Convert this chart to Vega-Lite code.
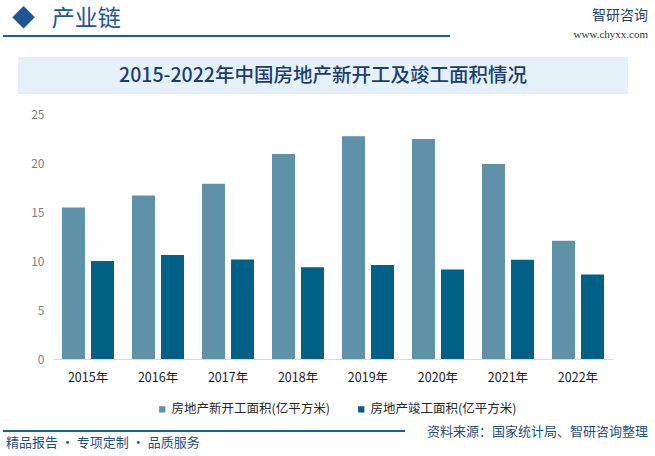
{
  "$schema": "https://vega.github.io/schema/vega-lite/v6.json",
  "background": "white",
  "padding": {"left": 3, "top": 8, "right": 0, "bottom": 0},
  "bounds": "flush",
  "spacing": 0,
  "config": {
    "view": {"stroke": null},
    "font": "Noto Sans CJK SC",
    "title": {"font": "Noto Sans CJK SC", "fontWeight": "normal"}
  },
  "vconcat": [
    {
      "bounds": "flush",
      "spacing": 50,
      "hconcat": [
        {
          "width": 447,
          "height": 2,
          "view": {"fill": "#1f5f8b", "stroke": null},
          "data": {"values": []},
          "mark": "point",
          "title": {
            "text": "◆\u2002 产业链",
            "anchor": "start",
            "orient": "top",
            "offset": 4,
            "dx": 9,
            "fontSize": 23,
            "color": "#1f5592"
          }
        },
        {
          "width": 148,
          "height": 2,
          "data": {"values": []},
          "mark": "point",
          "title": {
            "text": "智研咨询",
            "subtitle": "www.chyxx.com",
            "anchor": "end",
            "orient": "top",
            "offset": -5,
            "subtitlePadding": 6,
            "fontSize": 14,
            "color": "#1f3f6b",
            "subtitleFont": "Liberation Serif",
            "subtitleFontSize": 11,
            "subtitleColor": "#333333"
          }
        }
      ]
    },
    {"width": 1, "height": 22, "data": {"values": []}, "mark": "point"},
    {
      "bounds": "flush",
      "spacing": 14,
      "hconcat": [
        {"width": 1, "height": 37, "data": {"values": []}, "mark": "point"},
        {
          "width": 610,
          "height": 37,
          "view": {"fill": "#e5f1f8", "stroke": null},
          "data": {"values": [{"t": "2015-2022年中国房地产新开工及竣工面积情况"}]},
          "mark": {"type": "text", "fontSize": 19.5, "fontWeight": 500, "color": "#1b3d6d", "baseline": "middle", "align": "center"},
          "encoding": {"text": {"field": "t"}}
        }
      ]
    },
    {"width": 1, "height": 57, "data": {"values": []}, "mark": "point"},
    {
      "bounds": "flush",
      "spacing": 49,
      "hconcat": [
        {"width": 1, "height": 245, "data": {"values": []}, "mark": "point"},
        {
          "width": 560,
          "height": 245,
          "data": {
            "values": [
              {"year": "2015年", "series": "房地产新开工面积(亿平方米)", "value": 15.45},
              {"year": "2015年", "series": "房地产竣工面积(亿平方米)", "value": 10.0},
              {"year": "2016年", "series": "房地产新开工面积(亿平方米)", "value": 16.69},
              {"year": "2016年", "series": "房地产竣工面积(亿平方米)", "value": 10.61},
              {"year": "2017年", "series": "房地产新开工面积(亿平方米)", "value": 17.87},
              {"year": "2017年", "series": "房地产竣工面积(亿平方米)", "value": 10.15},
              {"year": "2018年", "series": "房地产新开工面积(亿平方米)", "value": 20.93},
              {"year": "2018年", "series": "房地产竣工面积(亿平方米)", "value": 9.36},
              {"year": "2019年", "series": "房地产新开工面积(亿平方米)", "value": 22.72},
              {"year": "2019年", "series": "房地产竣工面积(亿平方米)", "value": 9.59},
              {"year": "2020年", "series": "房地产新开工面积(亿平方米)", "value": 22.44},
              {"year": "2020年", "series": "房地产竣工面积(亿平方米)", "value": 9.12},
              {"year": "2021年", "series": "房地产新开工面积(亿平方米)", "value": 19.89},
              {"year": "2021年", "series": "房地产竣工面积(亿平方米)", "value": 10.14},
              {"year": "2022年", "series": "房地产新开工面积(亿平方米)", "value": 12.06},
              {"year": "2022年", "series": "房地产竣工面积(亿平方米)", "value": 8.62}
            ]
          },
          "mark": {"type": "bar"},
          "encoding": {
            "x": {
              "field": "year",
              "type": "nominal",
              "sort": null,
              "title": null,
              "scale": {"paddingInner": 0.257, "paddingOuter": 0.1286},
              "axis": {
                "labelAngle": 0,
                "ticks": false,
                "grid": false,
                "domainColor": "#d9d9d9",
                "domainWidth": 1,
                "labelPadding": 12,
                "labelFontSize": 12.5,
                "labelColor": "#1a1a1a"
              }
            },
            "xOffset": {
              "field": "series",
              "type": "nominal",
              "sort": ["房地产新开工面积(亿平方米)", "房地产竣工面积(亿平方米)"],
              "scale": {"paddingInner": 0.207, "paddingOuter": 0}
            },
            "y": {
              "field": "value",
              "type": "quantitative",
              "title": null,
              "scale": {"domain": [0, 25]},
              "axis": {
                "values": [0, 5, 10, 15, 20, 25],
                "domain": false,
                "ticks": false,
                "grid": false,
                "labelPadding": 9,
                "labelFontSize": 12,
                "labelColor": "#7f7f7f"
              }
            },
            "color": {
              "field": "series",
              "type": "nominal",
              "sort": ["房地产新开工面积(亿平方米)", "房地产竣工面积(亿平方米)"],
              "scale": {
                "domain": ["房地产新开工面积(亿平方米)", "房地产竣工面积(亿平方米)"],
                "range": ["#5f92a9", "#006085"]
              },
              "legend": {
                "orient": "none",
                "legendX": 153,
                "legendY": 368,
                "direction": "horizontal",
                "title": null,
                "symbolType": "square",
                "symbolSize": 40,
                "symbolStrokeWidth": 0,
                "labelFontSize": 12.5,
                "labelColor": "#262626",
                "labelOffset": 3,
                "columnPadding": 25
              }
            }
          }
        }
      ]
    },
    {"width": 1, "height": 316, "data": {"values": []}, "mark": "point"},
    {
      "bounds": "flush",
      "spacing": 5,
      "hconcat": [
        {
          "width": 402,
          "height": 2,
          "view": {"fill": "#1f5f8b", "stroke": null},
          "data": {"values": []},
          "mark": "point",
          "title": {
            "text": "精品报告 · 专项定制 · 品质服务",
            "orient": "bottom",
            "anchor": "start",
            "offset": 5,
            "dx": 3,
            "fontSize": 13,
            "color": "#1f4e79"
          }
        },
        {
          "width": 238,
          "height": 2,
          "data": {"values": []},
          "mark": "point",
          "title": {
            "text": "资料来源：国家统计局、智研咨询整理",
            "orient": "top",
            "anchor": "end",
            "offset": -9,
            "fontSize": 13,
            "color": "#1f4e79"
          }
        }
      ]
    }
  ]
}
